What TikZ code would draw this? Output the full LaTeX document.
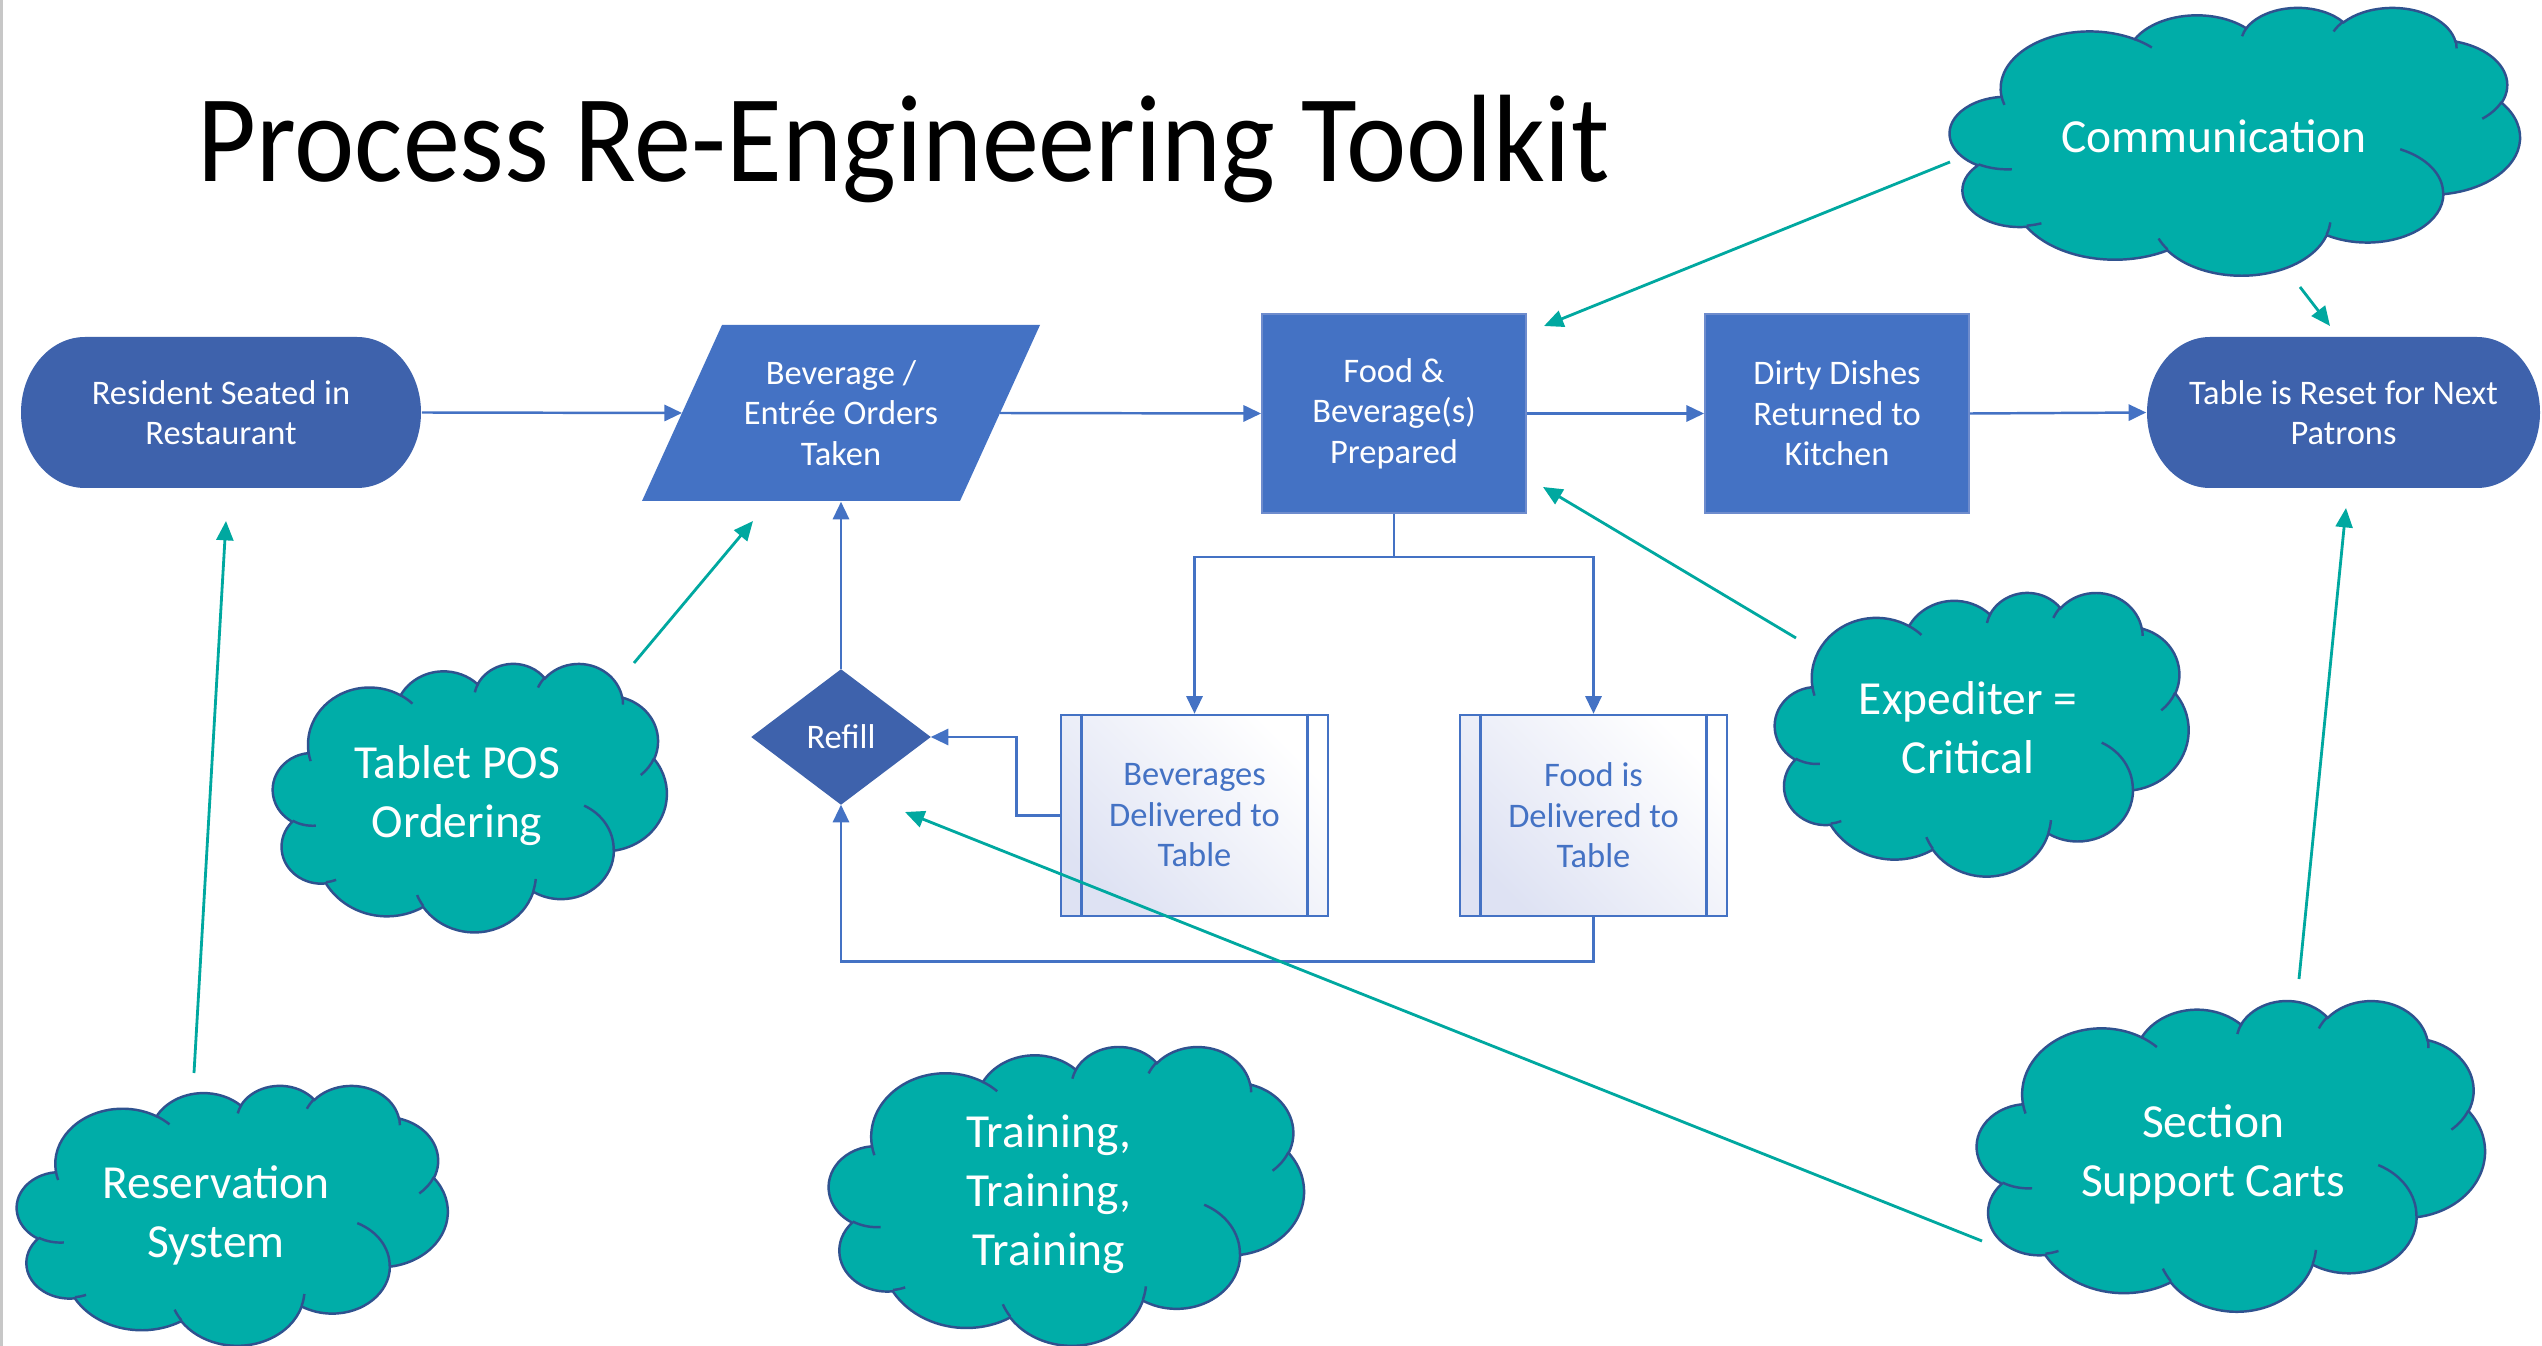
\documentclass[tikz,border=0pt]{standalone}
\usepackage{fontspec}
\usepackage{graphicx}
\setmainfont{Carlito}
\usetikzlibrary{arrows.meta}
\definecolor{flowblue}{RGB}{68,114,196}
\definecolor{termblue}{RGB}{62,98,172}
\definecolor{cloudteal}{RGB}{0,173,168}
\definecolor{arrowteal}{RGB}{0,168,160}
\definecolor{cloudedge}{RGB}{47,82,143}
\definecolor{lav}{RGB}{222,226,243}
\definecolor{rectedge}{RGB}{110,140,205}

\tikzset{
  termtext/.style={text=white, font=\fontsize{9.8}{11.5}\selectfont, align=center, inner sep=0pt},
  procbox/.style={fill=flowblue, draw=rectedge, line width=0.5pt, text=white, font=\fontsize{9.8}{11.5}\selectfont, align=center, inner sep=0pt},
  predef/.style={draw=flowblue, line width=0.7pt, top color=lav, bottom color=white, shading angle=135, text=flowblue, font=\fontsize{9.8}{11.5}\selectfont, align=center, inner sep=0pt},
  cloudtext/.style={text=white, font=\fontsize{13.5}{16.8}\selectfont, align=center, inner sep=0pt},
  cloudbody/.style={fill=cloudteal, draw=cloudedge, line width=0.7pt},
  cloudstroke/.style={draw=cloudedge, line width=0.7pt},
  flowline/.style={draw=flowblue, line width=0.7pt},
  flow/.style={flowline, -{Triangle[length=5pt,width=4.6pt]}},
  tealarrow/.style={draw=arrowteal, line width=0.8pt, -{Triangle[length=5.5pt,width=4.8pt]}}
}

\newcommand\ocloud[4]{%
  \pgfmathsetmacro\ocx{#3/432*0.01}%
  \pgfmathsetmacro\ocy{#4/432*0.01}%
  \begin{scope}[xshift=#1*0.01cm, yshift=-#2*0.01cm, x=\ocx cm, y=-\ocy cm]
    \filldraw[cloudbody] (39.00,143.70)
      arc[start angle=172.25, delta angle=128.11, x radius=67.53, y radius=91.90]
      arc[start angle=-152.02, delta angle=106.56, x radius=53.33, y radius=72.67]
      arc[start angle=-153.48, delta angle=116.16, x radius=43.65, y radius=59.45]
      arc[start angle=-139.72, delta angle=129.51, x radius=48.57, y radius=65.95]
      arc[start angle=-74.77, delta angle=97.98, x radius=53.33, y radius=72.73]
      arc[start angle=-37.53, delta angle=119.39, x radius=67.75, y radius=92.20]
      arc[start angle=0.46, delta angle=121.52, x radius=57.85, y radius=78.67]
      arc[start angle=16.85, delta angle=129.38, x radius=67.52, y radius=92.15]
      arc[start angle=58.98, delta angle=91.21, x radius=77.20, y radius=105.43]
      arc[start angle=83.31, delta angle=139.79, x radius=43.60, y radius=59.18]
      arc[start angle=120.35, delta angle=143.76, x radius=43.45, y radius=59.45]
      -- cycle;
    \draw[cloudstroke]
      (46.93,261.77) arc[start angle=85.54, delta angle=34.81, x radius=43.45, y radius=59.45]
      (69.28,348.99) arc[start angle=68.23, delta angle=15.08, x radius=43.60, y radius=59.18]
      (164.78,390.90) arc[start angle=146.23, delta angle=12.24, x radius=67.52, y radius=92.15]
      (288.27,347.51) arc[start angle=4.73, delta angle=12.12, x radius=67.52, y radius=92.15]
      (341.29,229.54) arc[start angle=-64.03, delta angle=64.49, x radius=57.85, y radius=78.67]
      (417.98,153.54) arc[start angle=23.21, delta angle=26.43, x radius=53.33, y radius=72.73]
      (383.24,54.26) arc[start angle=-10.21, delta angle=11.03, x radius=48.57, y radius=65.95]
      (290.78,39.52) arc[start angle=-156.29, delta angle=16.57, x radius=48.57, y radius=65.95]
      (221.41,47.20) arc[start angle=-167.73, delta angle=14.25, x radius=43.65, y radius=59.45]
      (140.00,51.92) arc[start angle=-59.64, delta angle=13.90, x radius=67.53, y radius=91.90]
      (41.27,157.89) arc[start angle=163.20, delta angle=9.05, x radius=67.53, y radius=91.90];
  \end{scope}}

\begin{document}
\begin{tikzpicture}[x=0.01cm, y=-0.01cm]
\useasboundingbox (0,0) rectangle (2542,1346);
\fill[white] (0,0) rectangle (2542,1346);
\draw[black!22, line width=0.6pt] (1.5,0) -- (1.5,1346);

% title
\node[anchor=base west, inner sep=0pt, font=\fontsize{32.45}{38}\selectfont] (title) at (197,182) {\scalebox{1}[1.09]{Process Re-Engineering Toolkit}};

% terminators
\fill[termblue] (85,337) -- (357,337)
  arc[start angle=-90, delta angle=180, x radius=64, y radius=75.5] -- (85,488)
  arc[start angle=90, delta angle=180, x radius=64, y radius=75.5] -- cycle;
\node[termtext, minimum width=4cm, minimum height=1.51cm] (res) at (221,412.5) {Resident Seated in\\Restaurant};

\fill[termblue] (2210,337) -- (2477,337)
  arc[start angle=-90, delta angle=180, x radius=63, y radius=75.5] -- (2210,488)
  arc[start angle=90, delta angle=180, x radius=63, y radius=75.5] -- cycle;
\node[termtext, minimum width=3.93cm, minimum height=1.51cm] (table) at (2343.5,412.5) {Table is Reset for Next\\Patrons};

% parallelogram
\fill[flowblue] (722,325) -- (1040,325) -- (960,501) -- (642,501) -- cycle;
\node[termtext, minimum width=3.98cm, minimum height=1.76cm] (bev) at (841,413) {Beverage /\\Entrée Orders\\Taken};
\coordinate (bevW) at (682,413);
\coordinate (bevE) at (1000,413);

% process boxes
\node[procbox, minimum width=2.64cm, minimum height=1.99cm] (food) at (1394,413.5) {Food \&\\Beverage(s)\\Prepared};
\node[procbox, minimum width=2.64cm, minimum height=1.99cm] (dirty) at (1837,413.5) {Dirty Dishes\\Returned to\\Kitchen};

% decision
\node[termtext, minimum width=1.78cm, minimum height=1.34cm] (refill) at (841,737) {};
\fill[termblue] (refill.north) -- (refill.east) -- (refill.south) -- (refill.west) -- cycle;
\node[termtext] (refilltext) at (refill.center) {Refill};

% predefined processes
\node[predef, minimum width=2.67cm, minimum height=2.01cm] (bevbox) at (1194.5,815.5) {Beverages\\Delivered to\\Table};
\draw[flowline] ([xshift=0.22cm]bevbox.north west) -- ([xshift=0.22cm]bevbox.south west);
\draw[flowline] ([xshift=-0.22cm]bevbox.north east) -- ([xshift=-0.22cm]bevbox.south east);
\node[predef, minimum width=2.67cm, minimum height=2.01cm] (foodbox) at (1593.5,815.5) {Food is\\Delivered to\\Table};
\draw[flowline] ([xshift=0.22cm]foodbox.north west) -- ([xshift=0.22cm]foodbox.south west);
\draw[flowline] ([xshift=-0.22cm]foodbox.north east) -- ([xshift=-0.22cm]foodbox.south east);

% flow connectors
\draw[flow] (res.east) -- (bevW);
\draw[flow] (bevE) -- (food.west);
\draw[flow] (food.east) -- (dirty.west);
\draw[flow] (dirty.east) -- (table.west);
\coordinate (split) at (1394,557);
\draw[flowline] (food.south) -- (split);
\draw[flow] (split) -| (bevbox.north);
\draw[flow] (split) -| (foodbox.north);
\draw[flow] (bevbox.west) -- ++(-43,0) |- (refill.east);
\draw[flow] (foodbox.south) -- ++(0,44) -| (refill.south);
\draw[flow] (refill.north) -- (bev.south);

% clouds
\ocloud{1950}{7}{570}{268}
\node[cloudtext] (comm) at (2214,136) {Communication};
\ocloud{273}{663}{394}{269}
\node[cloudtext] (tablet) at (457,796) {Tablet POS\\Ordering};
\ocloud{17}{1085}{431}{260}
\node[cloudtext] (reserv) at (216,1215) {Reservation\\System};
\ocloud{829}{1046}{475}{299}
\node[cloudtext] (train) at (1049,1194) {Training,\\Training,\\Training};
\ocloud{1775}{592}{414}{284}
\node[cloudtext] (exped) at (1968,728) {Expediter =\\Critical};
\ocloud{1977}{1000}{508}{311}
\node[cloudtext] (section) at (2213,1154) {Section\\Support Carts};

% teal connectors
\coordinate (a1s) at (1950,162); \coordinate (a1e) at (1544,326);
\coordinate (a2s) at (2300,287); \coordinate (a2e) at (2330,326);
\coordinate (a3s) at (2299,979); \coordinate (a3e) at (2346,508);
\coordinate (a4s) at (1982,1241); \coordinate (a4e) at (905,812);
\coordinate (a5s) at (1796,638); \coordinate (a5e) at (1543,487);
\coordinate (a6s) at (634,663); \coordinate (a6e) at (753,521);
\coordinate (a7s) at (194,1073); \coordinate (a7e) at (226,521);
\draw[tealarrow] (a1s) -- (a1e);
\draw[tealarrow] (a2s) -- (a2e);
\draw[tealarrow] (a3s) -- (a3e);
\draw[tealarrow] (a4s) -- (a4e);
\draw[tealarrow] (a5s) -- (a5e);
\draw[tealarrow] (a6s) -- (a6e);
\draw[tealarrow] (a7s) -- (a7e);
\end{tikzpicture}
\end{document}
